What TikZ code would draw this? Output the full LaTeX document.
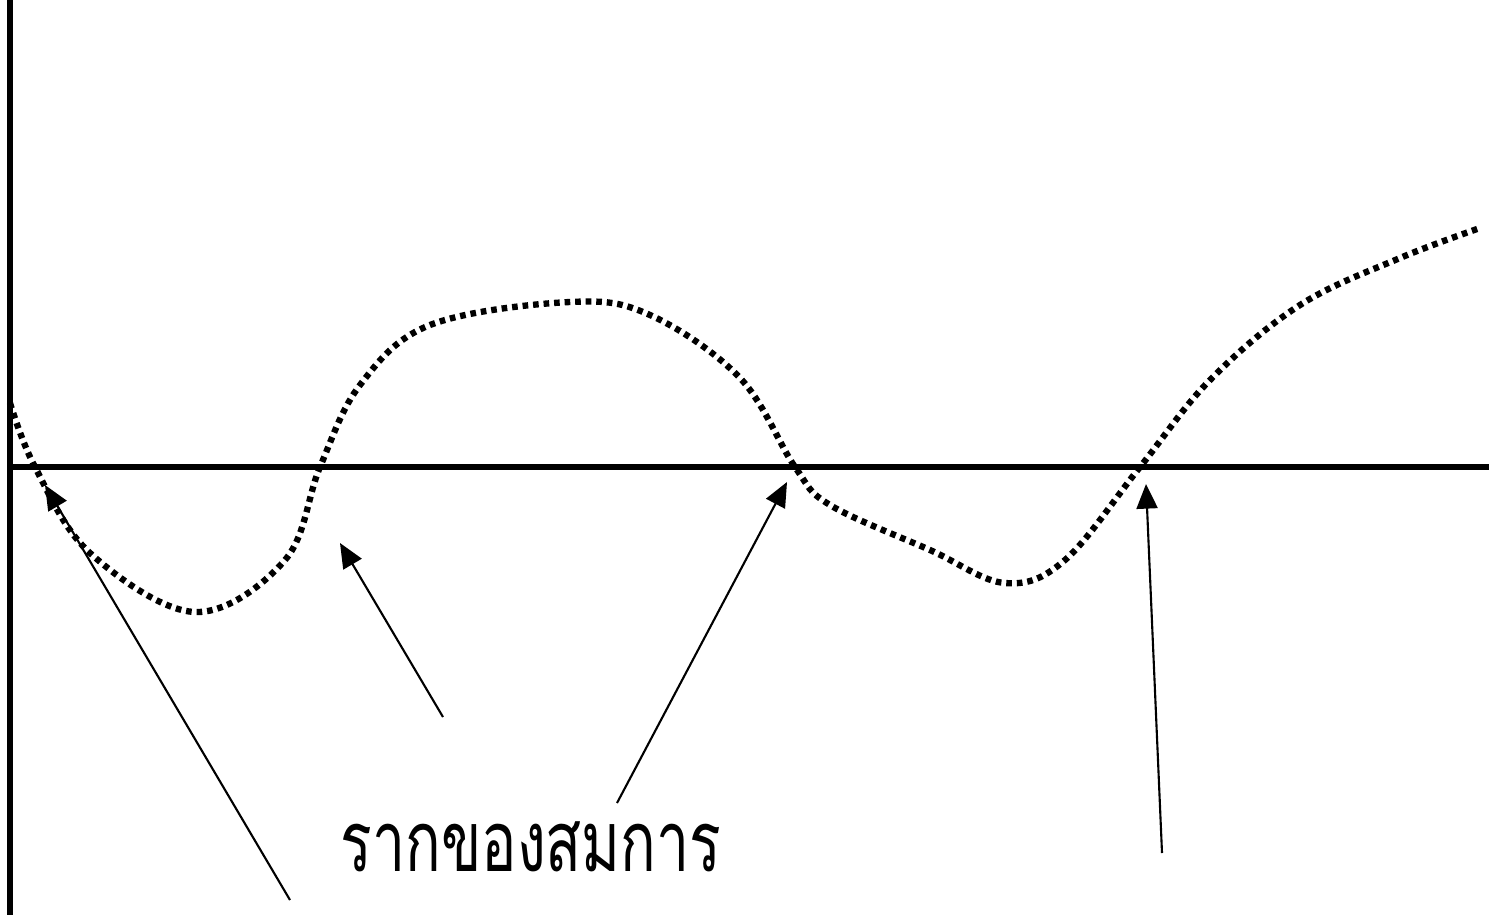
\documentclass[tikz,border=0pt]{standalone}
\usepackage{fontspec}
\newfontfamily\thaifont[Script=Thai]{Loma}
\usetikzlibrary{arrows.meta}
\begin{document}
\begin{tikzpicture}[x=0.01cm,y=-0.01cm,
  axis/.style={line width=1.6pt},
  curve/.style={line width=1.8pt, dash pattern=on 1.6pt off 1.4pt},
  pointer/.style={line width=0.6pt, -{Triangle[length=7pt,width=6pt]}}]
\useasboundingbox (0,0) rectangle (1489,915);
\draw[axis] (10,0) -- (10,915);
\draw[axis] (10,467) -- (1489,467);
\draw[curve] plot[smooth, tension=0.6] coordinates {
 (10,403) (35,467) (90,553) (195,612) (285,560) (320,467) (360,385) (430,325)
 (570,302) (650,315) (740,378) (795,467) (830,505) (930,550) (1005,583)
 (1065,560) (1140,467) (1210,380) (1300,305) (1400,258) (1480,228)};
\coordinate (r1) at (45,485);
\coordinate (r2) at (340,543);
\coordinate (r3) at (787,482);
\coordinate (r4) at (1146,484);
\coordinate (s1) at (290,900);
\coordinate (s2) at (443,717);
\coordinate (s3) at (617,803);
\coordinate (s4) at (1162,853);
\draw[pointer] (s1) -- (r1);
\draw[pointer] (s2) -- (r2);
\draw[pointer] (s3) -- (r3);
\draw[pointer] (s4) -- (r4);
\node[inner sep=0pt, xscale=0.7, font=\thaifont\fontsize{24pt}{29pt}\selectfont] (label) at (531,847) {รากของสมการ};
\end{tikzpicture}
\end{document}
